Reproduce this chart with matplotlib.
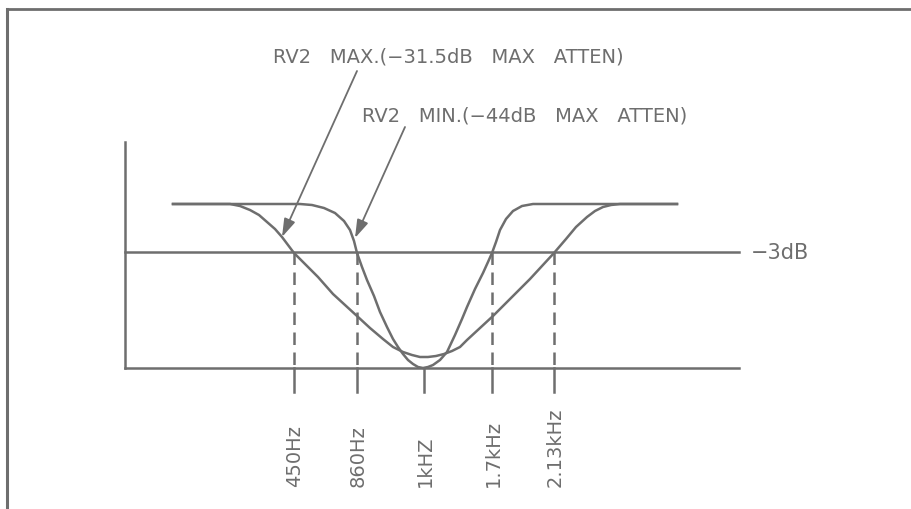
import matplotlib
matplotlib.use("Agg")
import matplotlib.pyplot as plt

# schematic notch response, diagram units (x right, y down)
grey = "#6e6e6e"

freq_labels = ["450Hz", "860Hz", "1kHZ", "1.7kHz", "2.13kHz"]
freq_x = [294, 357, 424, 492, 554]
dashed = [True, True, False, True, True]

level_top = 205      # 0 dB passband
level_3db = 253      # -3 dB line
level_floor = 369    # baseline

# RV2 MIN (narrow, deep notch)
narrow_x = [173, 300, 312, 324, 335, 344, 350, 354, 357, 362, 367, 374, 380, 387, 393, 398, 403, 408, 413, 418, 423,
            428, 433, 440, 447, 455, 462, 467, 475, 483, 488, 492, 496, 500, 506, 513, 522, 533, 547, 677]
narrow_y = [205, 205, 206, 209, 214, 222, 231, 242, 254, 268, 281, 297, 313, 328, 340, 348, 355, 361, 365, 368, 369,
            368, 366, 361, 353, 336, 320, 308, 290, 274, 263, 254, 243, 231, 220, 212, 207, 205, 205, 205]

# RV2 MAX (wide, shallow notch)
wide_x = [173, 230, 240, 250, 259, 267, 275, 282, 288, 294, 305, 318, 333, 345, 357, 370, 383, 393, 403, 412, 420,
          428, 436, 444, 452, 460, 467, 480, 493, 505, 517, 530, 542, 554, 566, 576, 587, 595, 603, 611, 620, 677]
wide_y = [205, 205, 207, 211, 216, 223, 230, 238, 246, 254, 265, 278, 295, 306, 317, 329, 340, 348, 353, 356, 358,
          358, 357, 355, 352, 348, 341, 329, 317, 305, 293, 280, 267, 254, 240, 228, 218, 212, 208, 206, 205, 205]

label_max = "RV2   MAX.(\u221231.5dB   MAX   ATTEN)"
label_min = "RV2   MIN.(\u221244dB   MAX   ATTEN)"

fig = plt.figure(figsize=(9.11, 5.10), dpi=100)
ax = fig.add_axes([0, 0, 1, 1])
ax.set_xlim(0, 911)
ax.set_ylim(510, 0)
ax.axis("off")

lw = 1.8
fs = 14
# outer frame (top and left only)
ax.plot([7, 911], [9.5, 9.5], color=grey, lw=2)
ax.plot([7, 7], [9.5, 510], color=grey, lw=2.2)

# axes of the sketch
ax.plot([125, 125], [143, level_floor], color=grey, lw=lw)
ax.plot([125, 739], [level_floor, level_floor], color=grey, lw=lw)
ax.plot([125, 739], [level_3db, level_3db], color=grey, lw=lw)
ax.text(751, level_3db, "\u22123dB", color=grey, fontsize=15, va="center", ha="left")

ax.plot(narrow_x, narrow_y, color=grey, lw=lw, solid_joinstyle="round")
ax.plot(wide_x, wide_y, color=grey, lw=lw, solid_joinstyle="round")

for x, lab, d in zip(freq_x, freq_labels, dashed):
    if d:
        ax.plot([x, x], [level_3db, level_floor], color=grey, lw=lw, ls=(0, (5, 3)))
    ax.plot([x, x], [level_floor, 393], color=grey, lw=lw)
    ax.text(x + 1, 487, lab, color=grey, fontsize=fs, rotation=90, ha="center", va="bottom")

ax.text(273, 57, label_max, color=grey, fontsize=fs, va="center", ha="left")
ax.text(362, 116, label_min, color=grey, fontsize=fs, va="center", ha="left")

arrow = dict(arrowstyle="-|>,head_length=1.1,head_width=0.35", color=grey, lw=1.3, shrinkA=0, shrinkB=0)
ax.annotate("", xy=(282, 238), xytext=(357, 72), arrowprops=arrow)
ax.annotate("", xy=(355, 239), xytext=(405, 128), arrowprops=arrow)

fig.savefig("out.png", dpi=100, facecolor="white")
